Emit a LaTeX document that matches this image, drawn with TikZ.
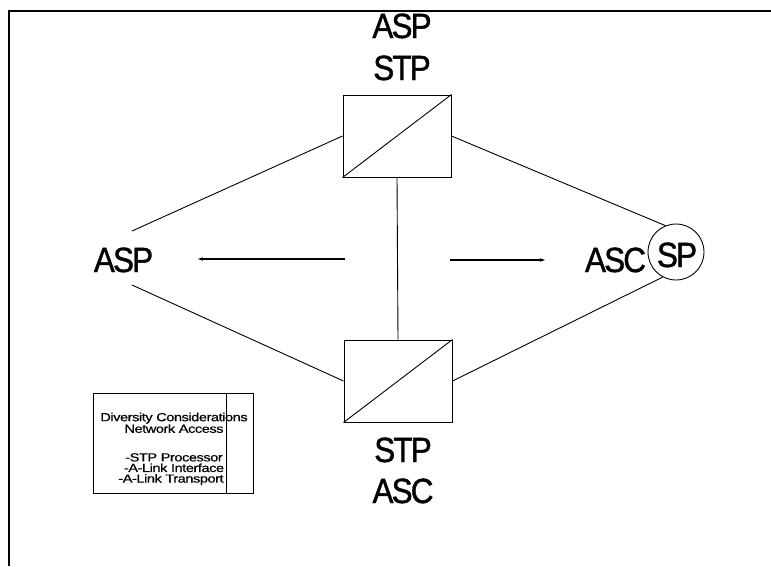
\documentclass[tikz,border=0pt]{standalone}
\usepackage{fontspec}
\setmainfont{Liberation Sans}
\newfontfamily\bigfont[FakeBold=1.2,LetterSpace=-6]{Liberation Sans}
\newfontfamily\notefont[FakeBold=0.6,LetterSpace=-3]{Liberation Sans}
\newcommand\notesetup{\notefont\fontsize{15}{10.6}\selectfont\lineskiplimit=-20pt\relax\lineskip=0pt\relax}
\newcommand\nl[1]{\scalebox{0.97}[0.78]{#1}}
\usetikzlibrary{arrows.meta,calc}
\begin{document}
\begin{tikzpicture}[x=1pt,y=-1pt,
  big/.style={font=\bigfont\fontsize{35}{35}\selectfont, inner sep=0pt, anchor=base},
  small/.style={font=\notesetup, inner sep=0pt, anchor=north, align=center},
  stpbox/.style={draw, line width=1pt, minimum width=108pt, minimum height=82pt, inner sep=0pt},
  link/.style={line width=0.9pt},
  arr/.style={line width=1.2pt, -{Stealth[length=5pt,width=3.5pt]}}]
\useasboundingbox (0,0) rectangle (771,566);
% frame
\coordinate (fbl) at (9,566);
\coordinate (ftl) at (9,11);
\coordinate (ftr) at (771,11);
\draw[line width=1.5pt] (fbl) -- (ftl) -- (ftr);
% boxes
\node[stpbox] (tb) at (397,136) {};
\node[stpbox] (bb) at (398,381) {};
\draw[link] (tb.south west) -- (tb.north east);
\draw[link] (bb.south west) -- (bb.north east);
% labels
\node[big] (l1) at (402,38) {\scalebox{0.9}[1]{ASP}};
\node[big] (l2) at (402,80) {\scalebox{0.9}[1]{STP}};
\node[big] (l3) at (403,462) {\scalebox{0.9}[1]{STP}};
\node[big] (l4) at (403,503) {\scalebox{0.9}[1]{ASC}};
\node[big] (asp) at (123.5,272) {\scalebox{0.9}[1]{ASP}};
\node[big] (asc) at (615.5,272) {\scalebox{0.9}[1]{ASC}};
\node[draw, circle, line width=0.9pt, minimum size=56pt, inner sep=0pt] (circ) at (676,252) {};
\node[big] (sp) at (677,267) {\scalebox{0.9}[1]{SP}};
% connectors
\coordinate (aspn) at (132,231);
\coordinate (asps) at (132,285);
\draw[link] (aspn) -- (tb.west);
\draw[link] (asps) -- (bb.west);
\draw[link] (tb.east) -- (circ.112);
\draw[link] (bb.east) -- (circ.242);
\draw[link] (tb.south) -- (bb.north);
% arrows
\coordinate (a1s) at (345,259);
\coordinate (a1e) at (198,259);
\coordinate (a2s) at (450,260);
\coordinate (a2e) at (545,260);
\draw[arr] (a1s) -- (a1e);
\draw[arr] (a2s) -- (a2e);
% note box
\node[draw, line width=1pt, minimum width=160pt, minimum height=100pt, inner sep=0pt] (note) at (173,443) {};
\draw[line width=1pt] ($(note.north west)+(134,0)$) -- ($(note.south west)+(134,0)$);
\node[small] (notetext) at (174,412.5) {\nl{Diversity Considerations}\\[1pt]
\nl{Network Access}\\[18pt]
\nl{-STP Processor}\\
\nl{-A-Link Interface}\\
\hspace*{-6pt}\nl{-A-Link Transport}};
\end{tikzpicture}
\end{document}
